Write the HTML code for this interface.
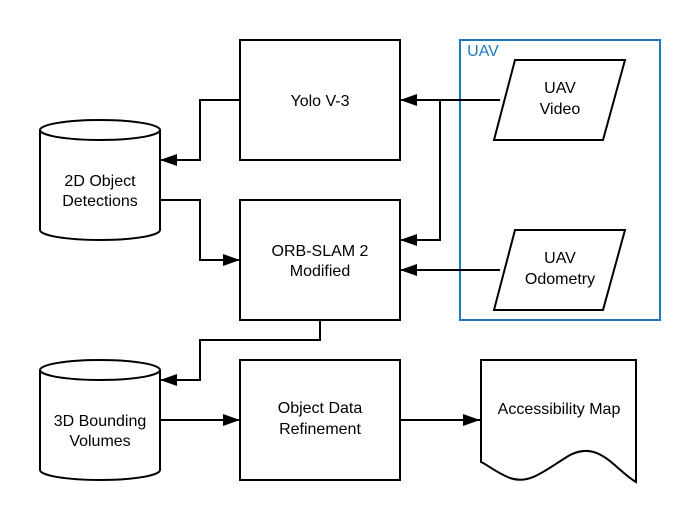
<!DOCTYPE html>
<html><head><meta charset="utf-8"><style>body{margin:0;background:#fff}</style></head><body>
<svg width="700" height="520" viewBox="0 0 700 520" xmlns="http://www.w3.org/2000/svg" font-family="Liberation Sans, sans-serif" font-size="16" text-anchor="middle">
<defs><marker id="a" markerWidth="10" markerHeight="10" refX="9" refY="5" orient="auto" markerUnits="userSpaceOnUse"><path d="M0,0 L10,5 L0,10 L3,5 Z" fill="#000"/></marker>
<marker id="b" markerWidth="18" markerHeight="12" refX="17" refY="6" orient="auto" markerUnits="userSpaceOnUse"><path d="M0,0 L17,6 L0,12 Z" fill="#000"/></marker></defs>
<g fill="none" stroke="#000" stroke-width="2">
<rect x="240" y="40" width="160" height="120" fill="#fff"/>
<rect x="240" y="200" width="160" height="120" fill="#fff"/>
<rect x="240" y="360" width="160" height="120" fill="#fff"/>
<path d="M40,130 A60,10 0 0 1 160,130 V230 A60,10 0 0 1 40,230 Z" fill="#fff"/>
<path d="M40,130 A60,10 0 0 0 160,130"/>
<path d="M40,370 A60,10 0 0 1 160,370 V470 A60,10 0 0 1 40,470 Z" fill="#fff"/>
<path d="M40,370 A60,10 0 0 0 160,370"/>
<rect x="460" y="40" width="200" height="280" stroke="#1a7bbf"/>
<path d="M515,60 H625 L603,140 H494 Z" fill="#fff"/>
<path d="M515,230 H625 L603,310 H494 Z" fill="#fff"/>
<path d="M481,360 H636 V482 C615,470 600,440 570,455 C545,470 530,485 510,478 C495,472 488,465 481,462 Z" fill="#fff"/>
<path d="M500,100 H400" marker-end="url(#b)"/>
<path d="M440,100 V240 H400" marker-end="url(#b)"/>
<path d="M500,270 H400" marker-end="url(#b)"/>
<path d="M240,100 H200 V160 H160" marker-end="url(#b)"/>
<path d="M160,200 H200 V260 H240" marker-end="url(#b)"/>
<path d="M320,320 V340 H200 V380 H160" marker-end="url(#b)"/>
<path d="M160,420 H240" marker-end="url(#b)"/>
<path d="M400,420 H480" marker-end="url(#b)"/>
</g>
<text x="320" y="106">Yolo V-3</text>
<text x="320" y="256">ORB-SLAM 2</text><text x="320" y="276">Modified</text>
<text x="320" y="413">Object Data</text><text x="320" y="434">Refinement</text>
<text x="100" y="186">2D Object</text><text x="100" y="206">Detections</text>
<text x="100" y="426">3D Bounding</text><text x="100" y="446">Volumes</text>
<text x="560" y="93">UAV</text><text x="560" y="114">Video</text>
<text x="560" y="263">UAV</text><text x="560" y="284">Odometry</text>
<text x="559" y="414">Accessibility Map</text>
<text x="483" y="56" fill="#1a7bbf">UAV</text>
</svg>
</body></html>
